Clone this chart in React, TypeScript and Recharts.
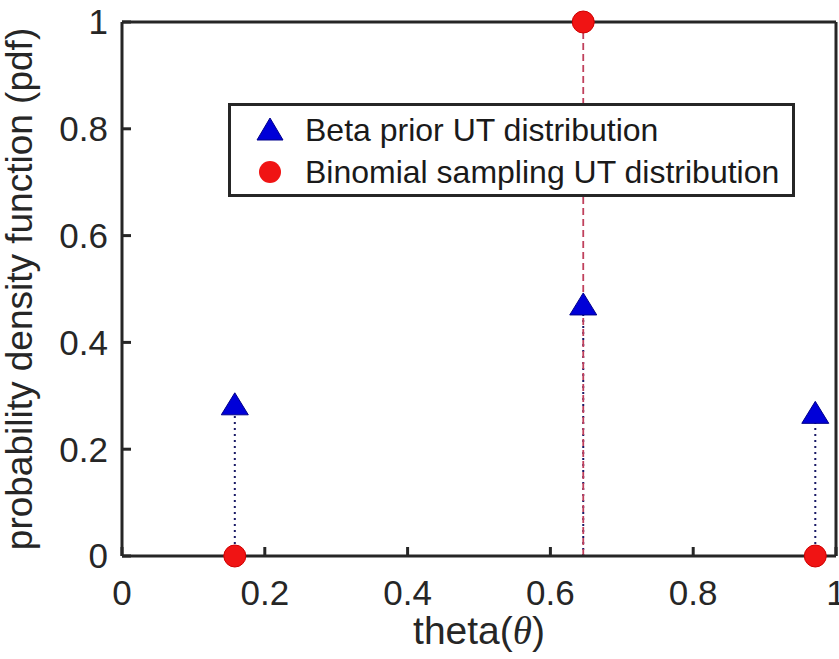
import React from 'react';
import { ScatterChart, Scatter, XAxis, YAxis, ErrorBar, Legend } from 'recharts';

const thetaPoints = [0.158, 0.646, 0.971];
const betaPriorPdf = [0.285, 0.472, 0.269];
const binomialPdf = [0, 1, 0];
const xTicks = [0, 0.2, 0.4, 0.6, 0.8, 1];
const yTicks = [0, 0.2, 0.4, 0.6, 0.8, 1];
const seriesNames = ['Beta prior UT distribution', 'Binomial sampling UT distribution'];
const xLabelText = 'theta(';
const xLabelSymbol = 'θ';
const yLabelText = 'probability density function (pdf)';

const betaData = thetaPoints.map((x, i) => ({ x, y: betaPriorPdf[i], stem: [betaPriorPdf[i], 0] }));
const binomData = thetaPoints.map((x, i) => ({ x, y: binomialPdf[i], stem: [binomialPdf[i], 0] }));

const FONT = '"Liberation Sans", Arial, Helvetica, sans-serif';
const TEXT = '#262626';
const AXIS = '#262626';
const BLUE = '#0000d8';
const RED = '#f01414';

const Triangle = (p: any) => {
  const { cx, cy } = p;
  if (cx == null || cy == null) return null;
  return (
    <polygon
      points={`${cx},${cy - 11} ${cx - 13.5},${cy + 11} ${cx + 13.5},${cy + 11}`}
      fill={BLUE}
      stroke="#00008b"
      strokeWidth={1}
    />
  );
};

const Dot = (p: any) => {
  const { cx, cy } = p;
  if (cx == null || cy == null) return null;
  return <circle cx={cx} cy={cy} r={11} fill={RED} stroke="#d00000" strokeWidth={1} />;
};

const fmt = (v: number) => String(v);

const YLabel = (props: any) => {
  const vb = props.viewBox || { x: 0, y: 22, width: 122, height: 534 };
  const x = vb.x + 32;
  const y = vb.y + vb.height / 2;
  return (
    <text
      x={x}
      y={y}
      transform={`rotate(-90, ${x}, ${y})`}
      textAnchor="middle"
      fontSize={37}
      fontFamily={FONT}
      fill={TEXT}
    >
      {yLabelText}
    </text>
  );
};

const XLabel = (props: any) => {
  const vb = props.viewBox || { x: 122, y: 556, width: 714, height: 103 };
  const x = vb.x + vb.width / 2;
  const y = vb.y + 88;
  return (
    <text x={x} y={y} textAnchor="middle" fontSize={39} fontFamily={FONT} fill={TEXT}>
      {xLabelText}
      <tspan fontStyle="italic" fontFamily='"Liberation Serif", "DejaVu Serif", serif'>
        {xLabelSymbol}
      </tspan>
      )
    </text>
  );
};

const LegendBox = (props: any) => {
  const payload = props.payload || [];
  const names = seriesNames;
  return (
    <div
      style={{
        width: 567,
        height: 94,
        boxSizing: 'border-box',
        border: `3px solid ${AXIS}`,
        background: '#fff',
        position: 'relative',
      }}
    >
      <svg width={561} height={88} style={{ position: 'absolute', left: 0, top: 0 }}>
        {names.map((name, i) => {
          const cy = i === 0 ? 24 : 66;
          const cx = 39;
          const label = (payload[i] && payload[i].value) || name;
          return (
            <g key={name}>
              {i === 0 ? (
                <polygon
                  points={`${cx},${cy - 12} ${cx - 13},${cy + 10} ${cx + 13},${cy + 10}`}
                  fill={BLUE}
                  stroke="#00008b"
                  strokeWidth={1}
                />
              ) : (
                <circle cx={cx} cy={cy} r={11} fill={RED} />
              )}
              <text x={74} y={cy + 11} fontSize={32} fontFamily={FONT} fill="#1a1a1a">
                {label}
              </text>
            </g>
          );
        })}
      </svg>
    </div>
  );
};

export default function App() {
  return (
    <div style={{ position: 'absolute', left: 0, top: 0, width: 839, height: 659, background: '#fff' }}>
      <ScatterChart width={839} height={659} margin={{ top: 21, right: 2, bottom: 0, left: 0 }}>
        <XAxis
          xAxisId="top"
          orientation="top"
          type="number"
          dataKey="x"
          domain={[0, 1]}
          ticks={xTicks}
          interval={0}
          height={1}
          tick={false}
          tickSize={-9}
          axisLine={{ stroke: AXIS, strokeWidth: 3 }}
          tickLine={{ stroke: AXIS, strokeWidth: 3 }}
        />
        <YAxis
          yAxisId="right"
          orientation="right"
          type="number"
          dataKey="y"
          domain={[0, 1]}
          ticks={yTicks}
          interval={0}
          width={1}
          tick={false}
          tickSize={-9}
          axisLine={{ stroke: AXIS, strokeWidth: 3 }}
          tickLine={{ stroke: AXIS, strokeWidth: 3 }}
        />
        <XAxis
          type="number"
          dataKey="x"
          domain={[0, 1]}
          ticks={xTicks}
          interval={0}
          height={103}
          tickSize={-9}
          tickMargin={33}
          tickFormatter={fmt}
          tick={{ fontSize: 35, fontFamily: FONT, fill: TEXT }}
          axisLine={{ stroke: AXIS, strokeWidth: 3 }}
          tickLine={{ stroke: AXIS, strokeWidth: 3 }}
          label={<XLabel />}
        />
        <YAxis
          type="number"
          dataKey="y"
          domain={[0, 1]}
          ticks={yTicks}
          interval={0}
          width={122}
          tickSize={-9}
          tickMargin={23}
          tickFormatter={fmt}
          tick={{ fontSize: 35, fontFamily: FONT, fill: TEXT }}
          axisLine={{ stroke: AXIS, strokeWidth: 3 }}
          tickLine={{ stroke: AXIS, strokeWidth: 3 }}
          label={<YLabel />}
        />
        <Legend
          layout="vertical"
          align="center"
          verticalAlign="middle"
          content={<LegendBox />}
          wrapperStyle={{ left: 228, top: 103, width: 567, height: 94 }}
        />
        <Scatter
          name={seriesNames[0]}
          data={betaData}
          fill={BLUE}
          shape={<Triangle />}
          isAnimationActive={false}
        >
          <ErrorBar
            dataKey="stem"
            direction="y"
            width={0}
            stroke="#1a1a66"
            strokeWidth={2}
            strokeDasharray="2 4"
            isAnimationActive={false}
          />
        </Scatter>
        <Scatter
          name={seriesNames[1]}
          data={binomData}
          fill={RED}
          shape={<Dot />}
          isAnimationActive={false}
        >
          <ErrorBar
            dataKey="stem"
            direction="y"
            width={0}
            stroke="#c0405c"
            strokeWidth={1.8}
            strokeDasharray="7 4"
            isAnimationActive={false}
          />
        </Scatter>
      </ScatterChart>
    </div>
  );
}
